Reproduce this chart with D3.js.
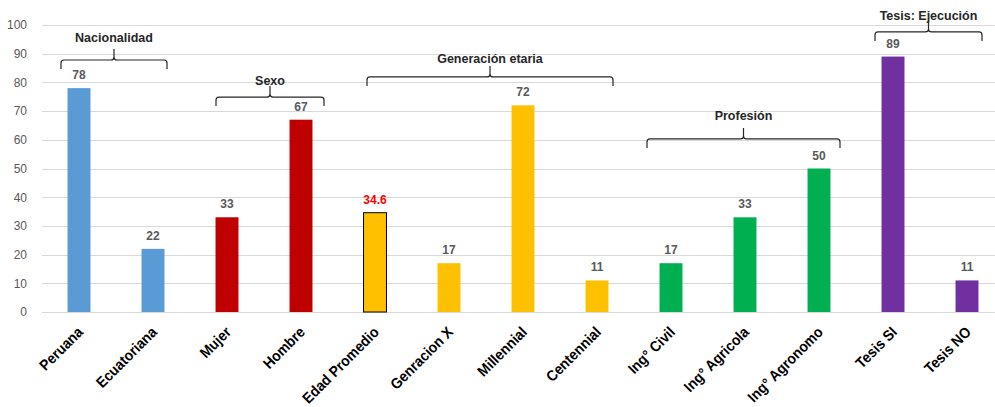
<!DOCTYPE html>
<html>
<head>
<meta charset="utf-8">
<script src="https://d3js.org/d3.v7.min.js"></script>
<style>
  body { margin: 0; background: #fff; }
  svg { font-family: "Liberation Sans", Arial, sans-serif; }
</style>
<title>Perfil de participantes</title>
</head>
<body>
<svg width="995" height="407"></svg>
<script>
// data
const categories = ["Peruana", "Ecuatoriana", "Mujer", "Hombre", "Edad Promedio", "Genracion X",
  "Millennial", "Centennial", "Ing° Civil", "Ing° Agricola", "Ing° Agronomo", "Tesis SI", "Tesis NO"];
const values = [78, 22, 33, 67, 34.6, 17, 72, 11, 17, 33, 50, 89, 11];
const valueLabels = ["78", "22", "33", "67", "34.6", "17", "72", "11", "17", "33", "50", "89", "11"];
const barColors = ["#5B9BD5", "#5B9BD5", "#C00000", "#C00000", "#FFC000", "#FFC000", "#FFC000", "#FFC000",
  "#00B050", "#00B050", "#00B050", "#7030A0", "#7030A0"];
const yTicks = [0, 10, 20, 30, 40, 50, 60, 70, 80, 90, 100];

const groupNames = ["Nacionalidad", "Sexo", "Generación etaria", "Profesión", "Tesis: Ejecución"];
const groupFirst = ["Peruana", "Mujer", "Edad Promedio", "Ing° Civil", "Tesis SI"];
const groupLast = ["Ecuatoriana", "Hombre", "Centennial", "Ing° Agronomo", "Tesis NO"];
const groupLevel = [87.8, 74.9, 81.9, 60.3, 97.6];

// layout tweaks for the hand placed braces (pixels)
const braceLeftPad = [18, 11, 8, 24, 18];
const braceRightPad = [14, 23, 16, 21, 15];
const braceTextGap = [18, 12, 14, 19, 12];

const svg = d3.select("svg");
const plot = { left: 42, right: 1004, top: 25, bottom: 312 };

const x = d3.scaleBand().domain(categories).range([plot.left, plot.right])
  .paddingInner(0.69).paddingOuter(0.345);
const y = d3.scaleLinear().domain([0, 100]).range([plot.bottom, plot.top]);
const cx = d => x(d) + x.bandwidth() / 2;

// gridlines
svg.append("g")
  .selectAll("line").data(yTicks).join("line")
  .attr("x1", plot.left).attr("x2", 995)
  .attr("y1", d => Math.round(y(d)) + 0.5).attr("y2", d => Math.round(y(d)) + 0.5)
  .attr("stroke", "#D9D9D9").attr("stroke-width", 1);

// y axis labels
const yAxis = svg.append("g").attr("transform", "translate(" + plot.left + ",0)")
  .call(d3.axisLeft(y).tickValues(yTicks).tickSize(0).tickPadding(15));
yAxis.select(".domain").remove();
yAxis.selectAll("text").attr("font-size", 12).attr("fill", "#595959")
  .attr("font-family", "Liberation Sans, Arial, sans-serif");

// bars
svg.append("g").selectAll("rect").data(categories).join("rect")
  .attr("x", d => x(d))
  .attr("width", x.bandwidth())
  .attr("y", (d, i) => y(values[i]))
  .attr("height", (d, i) => y(0) - y(values[i]))
  .attr("fill", (d, i) => barColors[i])
  .attr("stroke", d => d === "Edad Promedio" ? "#000" : "none")
  .attr("stroke-width", 1);

// value labels
svg.append("g").selectAll("text").data(categories).join("text")
  .attr("x", d => cx(d))
  .attr("y", (d, i) => y(values[i]) - 9)
  .attr("text-anchor", "middle")
  .attr("font-size", 12).attr("font-weight", "bold")
  .attr("fill", d => d === "Edad Promedio" ? "#FF0000" : "#595959")
  .text((d, i) => valueLabels[i]);

// x labels, rotated (slightly condensed, like Calibri)
svg.append("g").selectAll("text").data(categories).join("text")
  .attr("transform", d => "translate(" + (cx(d) + 5) + "," + 333 + ") rotate(-45) scale(0.92,1)")
  .attr("text-anchor", "end")
  .attr("font-size", 15).attr("font-weight", "bold").attr("fill", "#000")
  .text(d => d);

// group braces
const braces = svg.append("g");
groupNames.forEach((name, i) => {
  const x0 = cx(groupFirst[i]) - braceLeftPad[i];
  const x1 = cx(groupLast[i]) + braceRightPad[i];
  const yl = y(groupLevel[i]);
  const xm = (x0 + x1) / 2;
  const r = 3;
  const path = d3.path();
  path.moveTo(x0, yl + 9);
  path.lineTo(x0, yl + r);
  path.quadraticCurveTo(x0, yl, x0 + r, yl);
  path.lineTo(xm - r, yl);
  path.quadraticCurveTo(xm, yl, xm, yl - r);
  path.lineTo(xm, yl - 11);
  path.moveTo(xm, yl - r);
  path.quadraticCurveTo(xm, yl, xm + r, yl);
  path.lineTo(x1 - r, yl);
  path.quadraticCurveTo(x1, yl, x1, yl + r);
  path.lineTo(x1, yl + 9);
  braces.append("path").attr("d", path.toString())
    .attr("fill", "none").attr("stroke", "#262626").attr("stroke-width", 1.2);
  braces.append("text")
    .attr("x", xm).attr("y", yl - braceTextGap[i])
    .attr("text-anchor", "middle")
    .attr("font-size", 12.5).attr("font-weight", "bold").attr("fill", "#262626")
    .text(name);
});
</script>
</body>
</html>
